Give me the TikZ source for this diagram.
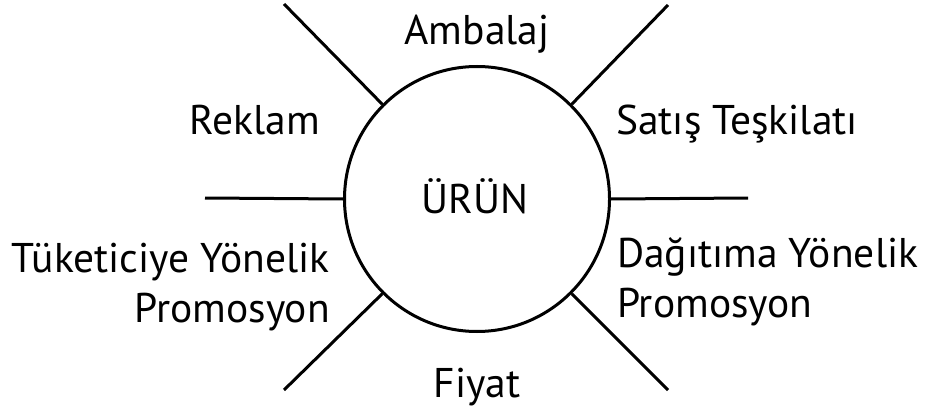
\documentclass[tikz,border=0pt]{standalone}
\usepackage{fontspec}
\setmainfont{PT Sans}
\begin{document}
\begin{tikzpicture}[x=1pt,y=-1pt,
  lbl/.style={inner sep=0pt,font=\fontsize{41.5}{48}\selectfont},
  spoke/.style={line width=3pt,line cap=butt},
  hub/.style={circle,draw,line width=3pt,minimum size=265pt,inner sep=0pt}]
\useasboundingbox (0,0) rectangle (928,414);
\node[hub] (c) at (477,199) {};
\coordinate (ul) at (284,4);
\coordinate (ur) at (668,5);
\coordinate (ml) at (205,198);
\coordinate (mr) at (748,198);
\coordinate (ll) at (284,390);
\coordinate (lr) at (668,390);
\draw[spoke] (c.135) -- (ul);
\draw[spoke] (c.45) -- (ur);
\draw[spoke] (c.180) -- (ml);
\draw[spoke] (c.0) -- (mr);
\draw[spoke] (c.225) -- (ll);
\draw[spoke] (c.315) -- (lr);
\node[lbl,anchor=base] (amb) at (477,45) {Ambalaj};
\node[lbl,anchor=base east] (rek) at (320,135) {Reklam};
\node[lbl,anchor=base west] (sat) at (616,135) {Satış Teşkilatı};
\node[lbl,anchor=base] (urun) at (475,213) {ÜRÜN};
\node[lbl,anchor=base east] (tuk) at (330,272) {Tüketiciye Yönelik};
\node[lbl,anchor=base east] (tukp) at (330,322) {Promosyon};
\node[lbl,anchor=base west] (dag) at (617,267) {Dağıtıma Yönelik};
\node[lbl,anchor=base west] (dagp) at (617,317) {Promosyon};
\node[lbl,anchor=base] (fiy) at (477,397) {Fiyat};
\end{tikzpicture}
\end{document}
